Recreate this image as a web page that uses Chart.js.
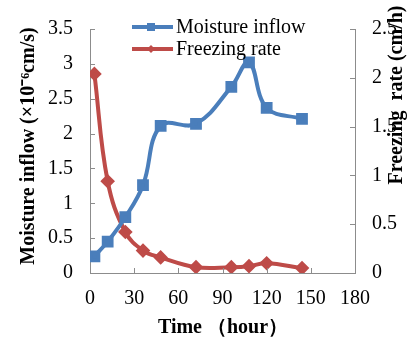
<!DOCTYPE html>
<html><head><meta charset="utf-8">
<script src="https://cdn.jsdelivr.net/npm/chart.js@4"></script>
<style>html,body{margin:0;padding:0;background:#fff}#wrap{width:416px;height:339px}</style>
</head><body><div id="wrap"><canvas id="c" width="416" height="339"></canvas></div>
<script>
const timeHours = [3, 12, 24, 36, 48, 72, 96, 108, 120, 144];
const moistureInflow = [0.24, 0.45, 0.80, 1.26, 2.11, 2.14, 2.67, 3.02, 2.37, 2.21];
const freezingRate = [2.04, 0.94, 0.42, 0.23, 0.16, 0.06, 0.06, 0.07, 0.10, 0.05];
const xTicks = [0, 30, 60, 90, 120, 150, 180];
const leftTicks = [0, 0.5, 1, 1.5, 2, 2.5, 3, 3.5];
const rightTicks = [0, 0.5, 1, 1.5, 2, 2.5];
const seriesNames = ['Moisture inflow', 'Freezing rate'];
const titles = {x: 'Time （hour）', y: 'Moisture inflow (×10⁻⁶cm/s)', y2: 'Freezing  rate (cm/h)'};

const BLUE = '#4a7ebb', RED = '#be4b48', AXIS = '#8c8c8c';
const SERIF = '"Liberation Serif", "Times New Roman", serif';

const CA = {left: 90, right: 355, top: 26, bottom: 273};

const overlay = {
  id: 'overlay',
  afterDraw(chart) {
    const ctx = chart.ctx, s = chart.scales;
    ctx.save();
    ctx.strokeStyle = AXIS; ctx.lineWidth = 1;
    xTicks.forEach(v => { const px = Math.round(s.x.getPixelForValue(v)) + 0.5;
      ctx.beginPath(); ctx.moveTo(px, CA.bottom); ctx.lineTo(px, CA.bottom - 5); ctx.stroke(); });
    leftTicks.forEach(v => { const py = Math.round(s.y.getPixelForValue(v)) + 0.5;
      ctx.beginPath(); ctx.moveTo(CA.left, py); ctx.lineTo(CA.left + 5, py); ctx.stroke(); });
    rightTicks.forEach(v => { const py = Math.round(s.y2.getPixelForValue(v)) + 0.5;
      ctx.beginPath(); ctx.moveTo(CA.right, py); ctx.lineTo(CA.right - 5, py); ctx.stroke(); });
    ctx.fillStyle = '#000';
    ctx.font = 'bold 20px ' + SERIF;
    ctx.textAlign = 'center'; ctx.textBaseline = 'middle';
    ctx.fillText(titles.x, 223, 328);
    ctx.save(); ctx.translate(29, 146); ctx.rotate(-Math.PI / 2); ctx.fillText(titles.y, 0, 0); ctx.restore();
    ctx.save(); ctx.translate(397, 95); ctx.rotate(-Math.PI / 2); ctx.fillText(titles.y2, 0, 0); ctx.restore();
    const items = [[seriesNames[0], BLUE, 'rect', 27], [seriesNames[1], RED, 'rectRot', 49]];
    ctx.font = '20px ' + SERIF; ctx.textAlign = 'left';
    items.forEach(([name, col, st, y]) => {
      ctx.strokeStyle = col; ctx.lineWidth = 4;
      ctx.beginPath(); ctx.moveTo(132, y); ctx.lineTo(173, y); ctx.stroke();
      ctx.fillStyle = col;
      if (st === 'rect') ctx.fillRect(147, y - 4, 8, 8);
      else { ctx.beginPath(); ctx.moveTo(151, y - 4); ctx.lineTo(155, y); ctx.lineTo(151, y + 4); ctx.lineTo(147, y); ctx.closePath(); ctx.fill(); }
      ctx.fillStyle = '#000'; ctx.fillText(name, 176, y + 1);
    });
    ctx.restore();
  }
};

new Chart(document.getElementById('c'), {
  type: 'line',
  data: {
    datasets: [
      {label: seriesNames[0], data: timeHours.map((t, i) => ({x: t, y: moistureInflow[i]})), yAxisID: 'y',
       borderColor: BLUE, backgroundColor: BLUE, borderWidth: 4, pointStyle: 'rect', pointRadius: 5.5, tension: 0.4},
      {label: seriesNames[1], data: timeHours.map((t, i) => ({x: t, y: freezingRate[i]})), yAxisID: 'y2',
       borderColor: RED, backgroundColor: RED, borderWidth: 4, pointStyle: 'rectRot', pointRadius: 4.5, tension: 0.4}
    ]
  },
  options: {
    responsive: false, animation: false, devicePixelRatio: 1,
    layout: {padding: {left: 0, right: 0, top: CA.top, bottom: 0}},
    plugins: {legend: {display: false}, tooltip: {enabled: false}},
    scales: {
      x: {type: 'linear', min: 0, max: 180,
        afterBuildTicks: a => { a.ticks = xTicks.map(v => ({value: v})); },
        afterFit: a => { a.height = 339 - CA.bottom; },
        grid: {display: false, drawTicks: false},
        border: {display: true, color: AXIS, width: 1},
        ticks: {padding: 14, color: '#000', font: {family: SERIF, size: 20}, maxRotation: 0, callback: v => String(v)}},
      y: {position: 'left', min: 0, max: 3.5,
        afterBuildTicks: a => { a.ticks = leftTicks.map(v => ({value: v})); },
        afterFit: a => { a.width = CA.left; },
        grid: {display: false, drawTicks: false},
        border: {display: true, color: AXIS, width: 1},
        ticks: {padding: 17, color: '#000', font: {family: SERIF, size: 20}, callback: v => String(v)}},
      y2: {position: 'right', min: 0, max: 2.5,
        afterBuildTicks: a => { a.ticks = rightTicks.map(v => ({value: v})); },
        afterFit: a => { a.width = 416 - CA.right; },
        grid: {display: false, drawTicks: false},
        border: {display: true, color: AXIS, width: 1},
        ticks: {padding: 17, color: '#000', font: {family: SERIF, size: 20}, callback: v => String(v)}}
    }
  },
  plugins: [overlay]
});
</script></body></html>
